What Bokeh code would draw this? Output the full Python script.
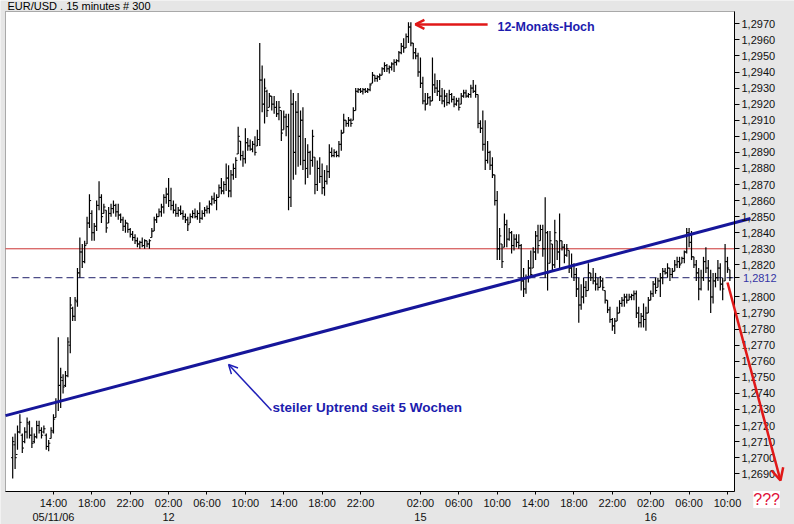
from bokeh.plotting import figure
from bokeh.models import (ColumnDataSource, FixedTicker, Range1d, Label, Arrow, OpenHead,
                          BoxAnnotation)
from bokeh.transform import dodge
from bokeh.embed import file_html
from bokeh.resources import INLINE

# ---------------- data (EUR/USD, 15-minute bars, 300 bars) ----------------
bar_high = [
    1.2713, 1.2715, 1.2720, 1.2727, 1.2715, 1.2719, 1.2725, 1.2723, 1.2719, 1.2715,
    1.2723, 1.2723, 1.2719, 1.2720, 1.2715, 1.2711, 1.2719, 1.2727, 1.2737, 1.2775,
    1.2756, 1.2752, 1.2754, 1.2775, 1.2800, 1.2794, 1.2800, 1.2818, 1.2837, 1.2833,
    1.2835, 1.2850, 1.2864, 1.2854, 1.2846, 1.2860, 1.2872, 1.2864, 1.2858, 1.2854,
    1.2856, 1.2858, 1.2860, 1.2858, 1.2858, 1.2852, 1.2850, 1.2848, 1.2846, 1.2843,
    1.2841, 1.2839, 1.2837, 1.2835, 1.2837, 1.2836, 1.2835, 1.2836, 1.2843, 1.2850,
    1.2852, 1.2855, 1.2858, 1.2864, 1.2868, 1.2874, 1.2868, 1.2860, 1.2858, 1.2856,
    1.2857, 1.2854, 1.2852, 1.2850, 1.2852, 1.2854, 1.2855, 1.2854, 1.2859, 1.2854,
    1.2856, 1.2857, 1.2860, 1.2863, 1.2865, 1.2864, 1.2870, 1.2874, 1.2872, 1.2883,
    1.2882, 1.2879, 1.2883, 1.2887, 1.2906, 1.2897, 1.2891, 1.2905, 1.2899, 1.2898,
    1.2897, 1.2900, 1.2904, 1.2958, 1.2944, 1.2936, 1.2929, 1.2927, 1.2925, 1.2925,
    1.2922, 1.2922, 1.2916, 1.2916, 1.2914, 1.2914, 1.2929, 1.2927, 1.2922, 1.2927,
    1.2916, 1.2918, 1.2899, 1.2895, 1.2891, 1.2904, 1.2887, 1.2885, 1.2887, 1.2883,
    1.2879, 1.2882, 1.2895, 1.2893, 1.2892, 1.2891, 1.2897, 1.2904, 1.2914, 1.2910,
    1.2912, 1.2911, 1.2918, 1.2930, 1.2930, 1.2930, 1.2930, 1.2930, 1.2930, 1.2933,
    1.2940, 1.2938, 1.2938, 1.2939, 1.2943, 1.2946, 1.2945, 1.2944, 1.2946, 1.2948,
    1.2948, 1.2953, 1.2958, 1.2961, 1.2964, 1.2971, 1.2971, 1.2958, 1.2955, 1.2952,
    1.2949, 1.2937, 1.2927, 1.2927, 1.2925, 1.2949, 1.2939, 1.2935, 1.2935, 1.2930,
    1.2929, 1.2927, 1.2929, 1.2927, 1.2925, 1.2924, 1.2924, 1.2927, 1.2929, 1.2929,
    1.2927, 1.2932, 1.2935, 1.2932, 1.2926, 1.2910, 1.2916, 1.2910, 1.2897, 1.2891,
    1.2887, 1.2876, 1.2866, 1.2843, 1.2833, 1.2852, 1.2848, 1.2843, 1.2841, 1.2839,
    1.2839, 1.2839, 1.2833, 1.2818, 1.2814, 1.2823, 1.2829, 1.2831, 1.2841, 1.2845,
    1.2845, 1.2845, 1.2862, 1.2841, 1.2841, 1.2833, 1.2848, 1.2835, 1.2852, 1.2835,
    1.2833, 1.2833, 1.2829, 1.2827, 1.2821, 1.2818, 1.2812, 1.2808, 1.2812, 1.2810,
    1.2821, 1.2815, 1.2818, 1.2815, 1.2812, 1.2813, 1.2812, 1.2804, 1.2798, 1.2794,
    1.2787, 1.2787, 1.2794, 1.2798, 1.2800, 1.2802, 1.2802, 1.2802, 1.2802, 1.2804,
    1.2804, 1.2794, 1.2790, 1.2796, 1.2794, 1.2800, 1.2804, 1.2810, 1.2812, 1.2812,
    1.2815, 1.2818, 1.2818, 1.2821, 1.2818, 1.2818, 1.2823, 1.2825, 1.2825, 1.2825,
    1.2829, 1.2843, 1.2843, 1.2841, 1.2825, 1.2823, 1.2818, 1.2817, 1.2825, 1.2831,
    1.2823, 1.2817, 1.2815, 1.2815, 1.2823, 1.2821, 1.2812, 1.2833, 1.2825, 1.2817,
]
bar_low = [
    1.2687, 1.2693, 1.2705, 1.2715, 1.2703, 1.2709, 1.2712, 1.2712, 1.2706, 1.2709,
    1.2712, 1.2715, 1.2712, 1.2715, 1.2705, 1.2704, 1.2712, 1.2715, 1.2725, 1.2729,
    1.2731, 1.2740, 1.2744, 1.2750, 1.2765, 1.2785, 1.2785, 1.2794, 1.2812, 1.2818,
    1.2821, 1.2833, 1.2843, 1.2835, 1.2835, 1.2841, 1.2854, 1.2846, 1.2852, 1.2840,
    1.2846, 1.2850, 1.2852, 1.2850, 1.2848, 1.2846, 1.2841, 1.2840, 1.2840, 1.2837,
    1.2835, 1.2833, 1.2831, 1.2830, 1.2831, 1.2830, 1.2831, 1.2830, 1.2837, 1.2841,
    1.2846, 1.2850, 1.2850, 1.2852, 1.2858, 1.2856, 1.2854, 1.2852, 1.2850, 1.2850,
    1.2851, 1.2848, 1.2846, 1.2841, 1.2846, 1.2849, 1.2849, 1.2848, 1.2846, 1.2848,
    1.2850, 1.2852, 1.2852, 1.2857, 1.2858, 1.2854, 1.2862, 1.2864, 1.2864, 1.2866,
    1.2862, 1.2862, 1.2873, 1.2874, 1.2889, 1.2885, 1.2881, 1.2883, 1.2891, 1.2891,
    1.2890, 1.2888, 1.2894, 1.2894, 1.2915, 1.2908, 1.2912, 1.2918, 1.2916, 1.2914,
    1.2912, 1.2910, 1.2897, 1.2904, 1.2900, 1.2854, 1.2856, 1.2873, 1.2876, 1.2881,
    1.2882, 1.2879, 1.2870, 1.2874, 1.2876, 1.2881, 1.2864, 1.2866, 1.2871, 1.2864,
    1.2863, 1.2870, 1.2874, 1.2887, 1.2887, 1.2887, 1.2887, 1.2891, 1.2902, 1.2906,
    1.2906, 1.2906, 1.2910, 1.2916, 1.2927, 1.2927, 1.2926, 1.2927, 1.2927, 1.2928,
    1.2933, 1.2934, 1.2934, 1.2935, 1.2938, 1.2940, 1.2940, 1.2939, 1.2941, 1.2940,
    1.2944, 1.2946, 1.2951, 1.2952, 1.2955, 1.2958, 1.2956, 1.2948, 1.2948, 1.2937,
    1.2930, 1.2920, 1.2916, 1.2920, 1.2919, 1.2922, 1.2927, 1.2925, 1.2922, 1.2920,
    1.2918, 1.2919, 1.2920, 1.2921, 1.2918, 1.2919, 1.2916, 1.2920, 1.2924, 1.2924,
    1.2924, 1.2924, 1.2927, 1.2924, 1.2905, 1.2902, 1.2891, 1.2879, 1.2883, 1.2879,
    1.2874, 1.2857, 1.2823, 1.2823, 1.2818, 1.2831, 1.2831, 1.2835, 1.2827, 1.2829,
    1.2831, 1.2830, 1.2804, 1.2800, 1.2802, 1.2809, 1.2812, 1.2818, 1.2823, 1.2827,
    1.2835, 1.2825, 1.2812, 1.2804, 1.2821, 1.2816, 1.2818, 1.2823, 1.2818, 1.2829,
    1.2821, 1.2825, 1.2815, 1.2812, 1.2810, 1.2800, 1.2784, 1.2792, 1.2796, 1.2800,
    1.2804, 1.2810, 1.2808, 1.2804, 1.2804, 1.2806, 1.2804, 1.2796, 1.2790, 1.2784,
    1.2779, 1.2777, 1.2785, 1.2790, 1.2794, 1.2794, 1.2796, 1.2798, 1.2798, 1.2798,
    1.2787, 1.2781, 1.2781, 1.2781, 1.2779, 1.2790, 1.2798, 1.2800, 1.2802, 1.2806,
    1.2800, 1.2808, 1.2814, 1.2812, 1.2810, 1.2812, 1.2816, 1.2818, 1.2818, 1.2821,
    1.2821, 1.2827, 1.2831, 1.2823, 1.2818, 1.2810, 1.2798, 1.2804, 1.2810, 1.2815,
    1.2804, 1.2790, 1.2796, 1.2806, 1.2810, 1.2804, 1.2798, 1.2810, 1.2815, 1.2810,
]
bar_open = [
    1.2700, 1.2708, 1.2702, 1.2716, 1.2714, 1.2710, 1.2716, 1.2721, 1.2714, 1.2710,
    1.2713, 1.2720, 1.2717, 1.2716, 1.2714, 1.2707, 1.2712, 1.2716, 1.2725, 1.2735,
    1.2745, 1.2748, 1.2745, 1.2751, 1.2770, 1.2793, 1.2788, 1.2797, 1.2815, 1.2828,
    1.2822, 1.2833, 1.2846, 1.2852, 1.2840, 1.2844, 1.2857, 1.2862, 1.2852, 1.2854,
    1.2846, 1.2852, 1.2855, 1.2857, 1.2853, 1.2851, 1.2848, 1.2844, 1.2846, 1.2842,
    1.2839, 1.2837, 1.2835, 1.2833, 1.2834, 1.2832, 1.2835, 1.2833, 1.2837, 1.2841,
    1.2848, 1.2850, 1.2853, 1.2856, 1.2862, 1.2864, 1.2860, 1.2857, 1.2854, 1.2852,
    1.2854, 1.2852, 1.2850, 1.2848, 1.2846, 1.2850, 1.2852, 1.2850, 1.2852, 1.2849,
    1.2852, 1.2854, 1.2855, 1.2858, 1.2861, 1.2860, 1.2862, 1.2868, 1.2866, 1.2870,
    1.2874, 1.2866, 1.2876, 1.2880, 1.2889, 1.2897, 1.2888, 1.2886, 1.2896, 1.2894,
    1.2892, 1.2895, 1.2894, 1.2898, 1.2935, 1.2920, 1.2928, 1.2918, 1.2925, 1.2920,
    1.2918, 1.2914, 1.2916, 1.2904, 1.2912, 1.2906, 1.2862, 1.2920, 1.2890, 1.2915,
    1.2900, 1.2910, 1.2885, 1.2880, 1.2890, 1.2885, 1.2887, 1.2870, 1.2880, 1.2875,
    1.2868, 1.2872, 1.2878, 1.2890, 1.2888, 1.2890, 1.2888, 1.2895, 1.2902, 1.2910,
    1.2908, 1.2910, 1.2910, 1.2916, 1.2928, 1.2929, 1.2928, 1.2929, 1.2928, 1.2929,
    1.2933, 1.2938, 1.2936, 1.2937, 1.2938, 1.2942, 1.2944, 1.2942, 1.2943, 1.2945,
    1.2946, 1.2947, 1.2952, 1.2956, 1.2955, 1.2962, 1.2968, 1.2958, 1.2952, 1.2950,
    1.2940, 1.2933, 1.2922, 1.2920, 1.2924, 1.2922, 1.2932, 1.2930, 1.2928, 1.2925,
    1.2922, 1.2925, 1.2921, 1.2926, 1.2923, 1.2920, 1.2922, 1.2920, 1.2925, 1.2927,
    1.2925, 1.2926, 1.2930, 1.2928, 1.2926, 1.2908, 1.2905, 1.2895, 1.2885, 1.2890,
    1.2882, 1.2876, 1.2860, 1.2830, 1.2833, 1.2831, 1.2845, 1.2836, 1.2840, 1.2832,
    1.2836, 1.2834, 1.2832, 1.2810, 1.2805, 1.2812, 1.2818, 1.2818, 1.2828, 1.2838,
    1.2835, 1.2842, 1.2830, 1.2840, 1.2821, 1.2833, 1.2820, 1.2835, 1.2828, 1.2835,
    1.2831, 1.2826, 1.2829, 1.2818, 1.2820, 1.2814, 1.2805, 1.2795, 1.2800, 1.2806,
    1.2804, 1.2815, 1.2812, 1.2810, 1.2808, 1.2806, 1.2810, 1.2804, 1.2798, 1.2792,
    1.2786, 1.2782, 1.2785, 1.2790, 1.2796, 1.2798, 1.2800, 1.2798, 1.2800, 1.2801,
    1.2802, 1.2790, 1.2784, 1.2788, 1.2786, 1.2790, 1.2798, 1.2802, 1.2808, 1.2806,
    1.2810, 1.2812, 1.2816, 1.2815, 1.2818, 1.2814, 1.2816, 1.2820, 1.2822, 1.2821,
    1.2824, 1.2828, 1.2840, 1.2834, 1.2825, 1.2820, 1.2815, 1.2805, 1.2812, 1.2822,
    1.2818, 1.2810, 1.2800, 1.2810, 1.2812, 1.2818, 1.2808, 1.2810, 1.2822, 1.2817,
]
bar_close = [
    1.2710, 1.2700, 1.2716, 1.2722, 1.2706, 1.2716, 1.2722, 1.2714, 1.2709, 1.2713,
    1.2720, 1.2717, 1.2714, 1.2718, 1.2707, 1.2709, 1.2717, 1.2724, 1.2735, 1.2745,
    1.2750, 1.2744, 1.2751, 1.2772, 1.2795, 1.2788, 1.2798, 1.2815, 1.2828, 1.2822,
    1.2832, 1.2846, 1.2860, 1.2840, 1.2844, 1.2857, 1.2862, 1.2850, 1.2856, 1.2843,
    1.2852, 1.2855, 1.2857, 1.2853, 1.2851, 1.2848, 1.2844, 1.2846, 1.2842, 1.2839,
    1.2837, 1.2835, 1.2833, 1.2834, 1.2832, 1.2835, 1.2833, 1.2835, 1.2841, 1.2848,
    1.2850, 1.2853, 1.2856, 1.2862, 1.2864, 1.2860, 1.2857, 1.2854, 1.2852, 1.2854,
    1.2852, 1.2850, 1.2848, 1.2845, 1.2850, 1.2852, 1.2850, 1.2852, 1.2849, 1.2852,
    1.2854, 1.2855, 1.2858, 1.2861, 1.2860, 1.2862, 1.2868, 1.2866, 1.2870, 1.2874,
    1.2866, 1.2876, 1.2880, 1.2885, 1.2900, 1.2888, 1.2886, 1.2896, 1.2894, 1.2892,
    1.2895, 1.2890, 1.2898, 1.2935, 1.2920, 1.2930, 1.2916, 1.2925, 1.2920, 1.2918,
    1.2914, 1.2918, 1.2902, 1.2912, 1.2906, 1.2862, 1.2920, 1.2890, 1.2915, 1.2900,
    1.2910, 1.2885, 1.2880, 1.2890, 1.2885, 1.2900, 1.2870, 1.2880, 1.2875, 1.2868,
    1.2872, 1.2878, 1.2890, 1.2888, 1.2890, 1.2888, 1.2895, 1.2902, 1.2910, 1.2908,
    1.2910, 1.2908, 1.2916, 1.2928, 1.2929, 1.2928, 1.2929, 1.2928, 1.2929, 1.2932,
    1.2938, 1.2936, 1.2937, 1.2938, 1.2942, 1.2944, 1.2942, 1.2943, 1.2945, 1.2946,
    1.2947, 1.2952, 1.2956, 1.2955, 1.2962, 1.2968, 1.2958, 1.2952, 1.2950, 1.2940,
    1.2933, 1.2922, 1.2920, 1.2924, 1.2922, 1.2932, 1.2930, 1.2928, 1.2925, 1.2922,
    1.2925, 1.2921, 1.2926, 1.2923, 1.2920, 1.2922, 1.2918, 1.2925, 1.2927, 1.2925,
    1.2926, 1.2930, 1.2928, 1.2926, 1.2908, 1.2905, 1.2895, 1.2885, 1.2890, 1.2882,
    1.2876, 1.2860, 1.2830, 1.2838, 1.2822, 1.2845, 1.2836, 1.2840, 1.2832, 1.2836,
    1.2834, 1.2832, 1.2810, 1.2805, 1.2812, 1.2818, 1.2814, 1.2828, 1.2838, 1.2832,
    1.2842, 1.2830, 1.2840, 1.2815, 1.2835, 1.2820, 1.2840, 1.2828, 1.2835, 1.2831,
    1.2826, 1.2830, 1.2818, 1.2820, 1.2814, 1.2805, 1.2795, 1.2800, 1.2806, 1.2804,
    1.2815, 1.2812, 1.2810, 1.2808, 1.2806, 1.2810, 1.2806, 1.2798, 1.2792, 1.2786,
    1.2782, 1.2785, 1.2790, 1.2796, 1.2798, 1.2800, 1.2798, 1.2800, 1.2801, 1.2802,
    1.2790, 1.2784, 1.2788, 1.2786, 1.2790, 1.2798, 1.2802, 1.2808, 1.2804, 1.2810,
    1.2812, 1.2816, 1.2815, 1.2818, 1.2814, 1.2816, 1.2820, 1.2822, 1.2820, 1.2824,
    1.2828, 1.2840, 1.2834, 1.2825, 1.2820, 1.2815, 1.2805, 1.2812, 1.2822, 1.2818,
    1.2810, 1.2800, 1.2810, 1.2812, 1.2818, 1.2808, 1.2805, 1.2822, 1.2818, 1.2812,
]
bar_index = list(range(len(bar_high)))

# time-axis tick positions (bar index) and labels
x_tick_index = [17, 33, 49, 65, 81, 97, 113, 129, 145, 170, 186, 202, 218, 234, 250, 266, 282, 298]
x_tick_text = ["14:00\n05/11/06", "18:00", "22:00", "02:00\n12", "06:00", "10:00", "14:00",
               "18:00", "22:00", "02:00\n15", "06:00", "10:00", "14:00", "18:00", "22:00",
               "02:00\n16", "06:00", "10:00"]

# price-axis ticks
y_tick_values = [1.2690, 1.2700, 1.2710, 1.2720, 1.2730, 1.2740, 1.2750, 1.2760, 1.2770,
                 1.2780, 1.2790, 1.2800, 1.2812, 1.2820, 1.2830, 1.2840, 1.2850, 1.2860,
                 1.2870, 1.2880, 1.2890, 1.2900, 1.2910, 1.2920, 1.2930, 1.2940, 1.2950,
                 1.2960, 1.2970]
y_tick_text = ["1,2690", "1,2700", "1,2710", "1,2720", "1,2730", "1,2740", "1,2750", "1,2760",
               "1,2770", "1,2780", "1,2790", "1,2800", "", "1,2820", "1,2830", "1,2840",
               "1,2850", "1,2860", "1,2870", "1,2880", "1,2890", "1,2900", "1,2910", "1,2920",
               "1,2930", "1,2940", "1,2950", "1,2960", "1,2970"]

resistance_level = 1.2830
current_level = 1.2812
current_label = "1,2812"
title_text = "EUR/USD . 15 minutes # 300"

# trend line (bar index, price)
trend_x = [-3.0, 307.6]
trend_y = [1.27262, 1.28488]

# annotation anchors (bar index, price)
high_arrow = dict(x_start=198.0, y_start=1.29696, x_end=167.9, y_end=1.29696)
high_text = dict(x=202.1, y=1.29677, text="12-Monats-Hoch")
trend_arrow = dict(x_start=107.9, y_start=1.27294, x_end=90.0, y_end=1.27580)
trend_text = dict(x=108.3, y=1.27312, text="steiler Uptrend seit 5 Wochen")
down_arrow = dict(x_start=298.0, y_start=1.28090, x_end=320.1, y_end=1.26858)
question_text = dict(x=314.3, y=1.26740, text="???")

# chart box (bar index / price) and the whole canvas range
box_left, box_right = -3.0, 300.93
box_bottom, box_top = 1.267896, 1.297765
canvas_x = (-5.086, 325.94)
canvas_y = (1.265843, 1.298450)

# ---------------- figure ----------------
FONT = "Liberation Sans"
GRAY = "#e6e6e6"
BLUE_TXT = "#1c1cae"

p = figure(width=794, height=524, output_backend="svg", toolbar_location=None,
           x_range=Range1d(*canvas_x), y_range=Range1d(*canvas_y),
           y_axis_location="right", min_border=0)
p.title.text = ""
p.title.standoff = 0
p.background_fill_color = GRAY
p.border_fill_color = GRAY
p.outline_line_color = None
p.grid.visible = False

# white chart box with black frame
p.add_layout(BoxAnnotation(left=box_left, right=box_right, bottom=box_bottom, top=box_top,
                           fill_color="white", fill_alpha=1.0, line_color="black",
                           line_width=1, level="underlay"))

for ax in (p.xaxis[0], p.yaxis[0]):
    ax.axis_line_color = "black"
    ax.major_tick_line_color = "black"
    ax.minor_tick_line_color = None
    ax.major_tick_in = 0
    ax.major_label_text_font = FONT
    ax.major_label_text_font_size = "11px"
    ax.major_label_text_color = "#111111"

p.xaxis.ticker = FixedTicker(ticks=x_tick_index)
p.xaxis.major_label_overrides = dict(zip(x_tick_index, x_tick_text))
p.xaxis.major_tick_out = 3
p.xaxis.major_label_standoff = 2
p.xaxis.fixed_location = box_bottom
p.xaxis.bounds = (box_left, box_right)

p.yaxis.ticker = FixedTicker(ticks=y_tick_values)
p.yaxis.major_label_overrides = dict(zip(y_tick_values, y_tick_text))
p.yaxis.major_tick_out = 5
p.yaxis.major_label_standoff = 2
p.yaxis.fixed_location = box_right
p.yaxis.bounds = (box_bottom, box_top)

# title
p.add_layout(Label(x=box_left, y=box_top, text=title_text, text_font=FONT, text_font_size="11px",
                   text_color="black", text_baseline="bottom", text_align="left",
                   x_offset=2, y_offset=0))

# horizontal levels
p.segment(x0=box_left, y0=resistance_level, x1=box_right, y1=resistance_level,
          line_color="#cc3333", line_width=1)
p.segment(x0=-0.5, y0=current_level, x1=box_right, y1=current_level,
          line_color="#20206a", line_width=1, line_dash="7 4")

# OHLC bars
src = ColumnDataSource(dict(x=bar_index, high=bar_high, low=bar_low, open=bar_open, close=bar_close))
p.segment(x0="x", y0="low", x1="x", y1="high", source=src, line_color="black", line_width=1.2)
p.segment(x0=dodge("x", -0.7), y0="open", x1="x", y1="open", source=src, line_color="black", line_width=1)
p.segment(x0="x", y0="close", x1=dodge("x", 0.7), y1="close", source=src, line_color="black", line_width=1)

# trend line
p.line(trend_x, trend_y, line_color="#16169a", line_width=3)

# current price label in blue on the axis
p.add_layout(Label(x=304.45, y=current_level, text=current_label, text_font=FONT,
                   text_font_size="11px", text_color="#3535a5", text_baseline="middle",
                   text_align="left"))

# "12-Monats-Hoch" arrow + text
p.add_layout(Arrow(end=OpenHead(size=9, line_color="#e01818", line_width=2.5),
                   line_color="#e01818", line_width=2.5, **high_arrow))
p.add_layout(Label(text_font=FONT, text_font_size="12.5px", text_font_style="bold",
                   text_color=BLUE_TXT, text_baseline="middle", text_align="left", **high_text))

# trend annotation
p.add_layout(Arrow(end=OpenHead(size=9, line_color="#2020b8", line_width=1.5),
                   line_color="#2020b8", line_width=1.5, **trend_arrow))
p.add_layout(Label(text_font=FONT, text_font_size="13.5px", text_font_style="bold",
                   text_color=BLUE_TXT, text_baseline="middle", text_align="left", **trend_text))

# downward arrow and question marks
p.add_layout(Arrow(end=OpenHead(size=12, line_color="#e01818", line_width=2.5),
                   line_color="#e01818", line_width=2.5, **down_arrow))
p.add_layout(Label(text_font=FONT, text_font_size="16px", text_color="#e0103a",
                   text_baseline="middle", text_align="center", background_fill_color="white",
                   **question_text))

open("out.html", "w").write(file_html(p, INLINE))
